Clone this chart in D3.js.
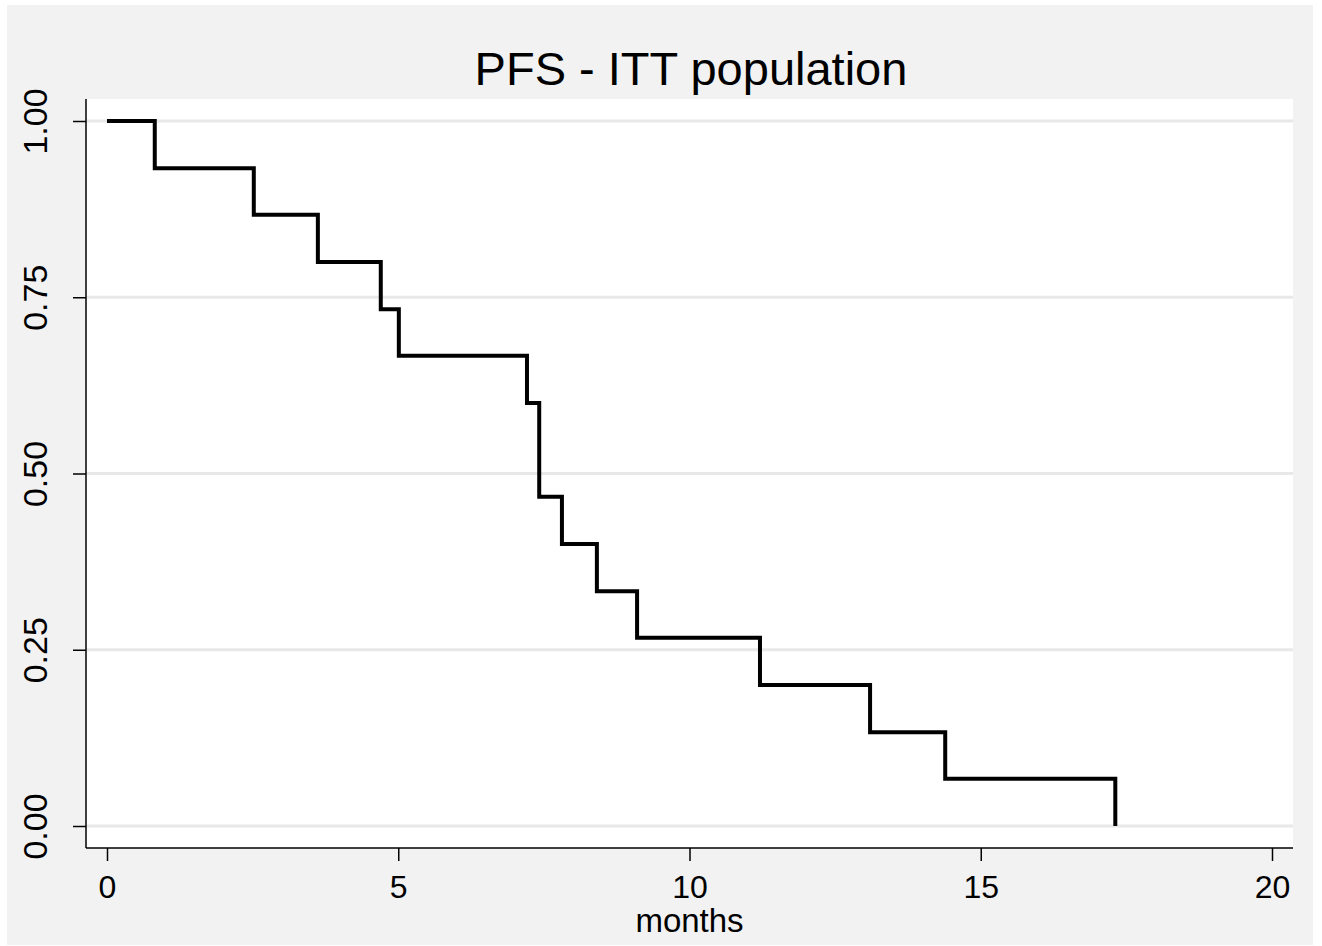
<!DOCTYPE html>
<html>
<head>
<meta charset="utf-8">
<title>PFS - ITT population</title>
<script src="https://cdn.jsdelivr.net/npm/d3@7"></script>
<style>
  body { margin: 0; background: #ffffff; }
  svg { display: block; font-family: "Liberation Sans", Arial, sans-serif; }
</style>
</head>
<body>
<svg id="chart"></svg>
<script>
// Kaplan-Meier step points (months, survival)
var months   = [0, 0.82, 2.52, 3.62, 4.70, 5.01, 7.21, 7.42, 7.81, 8.41, 9.10, 11.21, 13.10, 14.39, 17.31];
var survival = [1.000, 0.933, 0.867, 0.800, 0.733, 0.667, 0.600, 0.467, 0.400, 0.333, 0.267, 0.200, 0.133, 0.067, 0.000];
var xTicks = [0, 5, 10, 15, 20];
var yTicks = [0, 0.25, 0.5, 0.75, 1];
var titleText = "PFS - ITT population";
var xLabel = "months";

var width = 1322, height = 946;
var plot = {left: 86, right: 1293, top: 99, bottom: 848};

var svg = d3.select("#chart").attr("width", width).attr("height", height);

// outer gray panel
svg.append("rect")
  .attr("x", 7).attr("y", 5)
  .attr("width", 1306).attr("height", 940)
  .attr("fill", "#f2f2f2");

// plot region
svg.append("rect")
  .attr("x", plot.left).attr("y", plot.top)
  .attr("width", plot.right - plot.left).attr("height", plot.bottom - plot.top)
  .attr("fill", "#ffffff");

var x = d3.scaleLinear().domain([0, 20]).range([107, 1272]);
var y = d3.scaleLinear().domain([0, 1]).range([826, 121]);

// grid lines
svg.append("g")
  .selectAll("line")
  .data(yTicks)
  .enter().append("line")
  .attr("x1", plot.left).attr("x2", plot.right)
  .attr("y1", function(d) { return y(d); })
  .attr("y2", function(d) { return y(d); })
  .attr("stroke", "#e8e8e8")
  .attr("stroke-width", 3);

// x axis
var axisX = d3.axisBottom(x)
  .tickValues(xTicks)
  .tickFormat(d3.format("d"))
  .tickSize(13)
  .tickSizeOuter(0);

var gx = svg.append("g")
  .attr("transform", "translate(0," + plot.bottom + ")")
  .call(axisX);
gx.select(".domain").remove();
gx.append("line")
  .attr("x1", plot.left).attr("x2", plot.right)
  .attr("y1", 0).attr("y2", 0)
  .attr("stroke", "#000").attr("stroke-width", 1.5);
gx.selectAll(".tick line").attr("stroke", "#000").attr("stroke-width", 1.5);
gx.selectAll(".tick text")
  .attr("fill", "#000")
  .attr("y", 50)
  .attr("dy", 0)
  .style("font-size", "32px")
  .style("font-family", "'Liberation Sans', Arial, sans-serif");

// y axis
var axisY = d3.axisLeft(y)
  .tickValues(yTicks)
  .tickFormat(d3.format(".2f"))
  .tickSize(13)
  .tickSizeOuter(0);

var gy = svg.append("g")
  .attr("transform", "translate(" + plot.left + ",0)")
  .call(axisY);
gy.select(".domain").remove();
gy.append("line")
  .attr("x1", 0).attr("x2", 0)
  .attr("y1", plot.top).attr("y2", plot.bottom)
  .attr("stroke", "#000").attr("stroke-width", 1.5);
gy.selectAll(".tick line").attr("stroke", "#000").attr("stroke-width", 1.5);
gy.selectAll(".tick text")
  .attr("fill", "#000")
  .attr("x", -39)
  .attr("y", 0)
  .attr("dy", 0)
  .attr("transform", "rotate(-90,-39,0)")
  .style("text-anchor", "middle")
  .style("font-size", "34px")
  .style("font-family", "'Liberation Sans', Arial, sans-serif");

// survival step line
var pts = months.map(function(m, i) { return [m, survival[i]]; });
var line = d3.line()
  .x(function(d) { return x(d[0]); })
  .y(function(d) { return y(d[1]); })
  .curve(d3.curveStepAfter);

svg.append("path")
  .datum(pts)
  .attr("d", line)
  .attr("fill", "none")
  .attr("stroke", "#000")
  .attr("stroke-width", 4)
  .attr("stroke-linejoin", "miter");

// title
svg.append("text")
  .attr("x", 691).attr("y", 85)
  .style("text-anchor", "middle")
  .style("font-size", "47px")
  .attr("fill", "#000")
  .text(titleText);

// x label
svg.append("text")
  .attr("x", (plot.left + plot.right) / 2).attr("y", 932)
  .style("text-anchor", "middle")
  .style("font-size", "33px")
  .attr("fill", "#000")
  .text(xLabel);
</script>
</body>
</html>
